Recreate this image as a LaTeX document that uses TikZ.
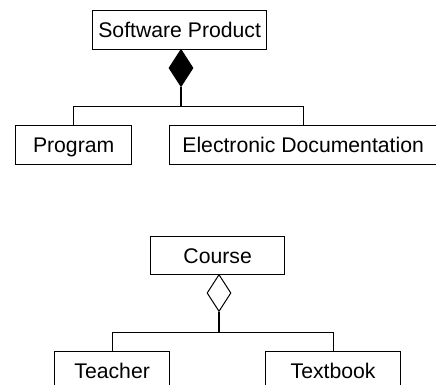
\documentclass[tikz,border=0pt]{standalone}
\usepackage{fontspec}
\setmainfont{Liberation Sans}
\usetikzlibrary{shapes.geometric}
\begin{document}
\begin{tikzpicture}[x=1pt,y=-1pt,
  cls/.style={draw, line width=1.3pt, rectangle, inner sep=0pt, anchor=north west,
    font=\fontsize{21.2}{25}\selectfont, text height=15.2pt, text depth=0pt},
  comp/.style={draw, shape=diamond, inner sep=0pt, minimum width=24pt, minimum height=37pt,
    line width=1pt, anchor=north},
  link/.style={line width=0.95pt},
  stem/.style={line width=1.6pt}]
\useasboundingbox (0,0) rectangle (436,385);
\clip (0,0) rectangle (436,385);
% top diagram
\node[cls, minimum width=174pt, minimum height=39pt] (sp) at (92,10) {Software Product};
\node[comp, fill=black] (d1) at (181,49) {};
\node[cls, minimum width=116pt, minimum height=39pt] (prog) at (15,125) {Program};
\node[cls, minimum width=267pt, minimum height=39pt] (ed) at (169,125) {Electronic Documentation};
\coordinate (j1) at (181,106);
\draw[stem] (d1.south) -- (j1);
\draw[link] (prog.north) -- (prog.north |- j1) -- (ed.north |- j1) -- (ed.north);
% bottom diagram
\node[cls, minimum width=134pt, minimum height=38pt] (course) at (150,236) {Course};
\node[comp, fill=white] (d2) at (219,274) {};
\node[cls, minimum width=115pt, minimum height=39pt] (teach) at (54,351) {Teacher};
\node[cls, minimum width=135pt, minimum height=39pt] (text) at (265,351) {Textbook};
\coordinate (j2) at (219,332);
\draw[stem] (d2.south) -- (j2);
\draw[link] (teach.north) -- (teach.north |- j2) -- (text.north |- j2) -- (text.north);
\end{tikzpicture}
\end{document}
